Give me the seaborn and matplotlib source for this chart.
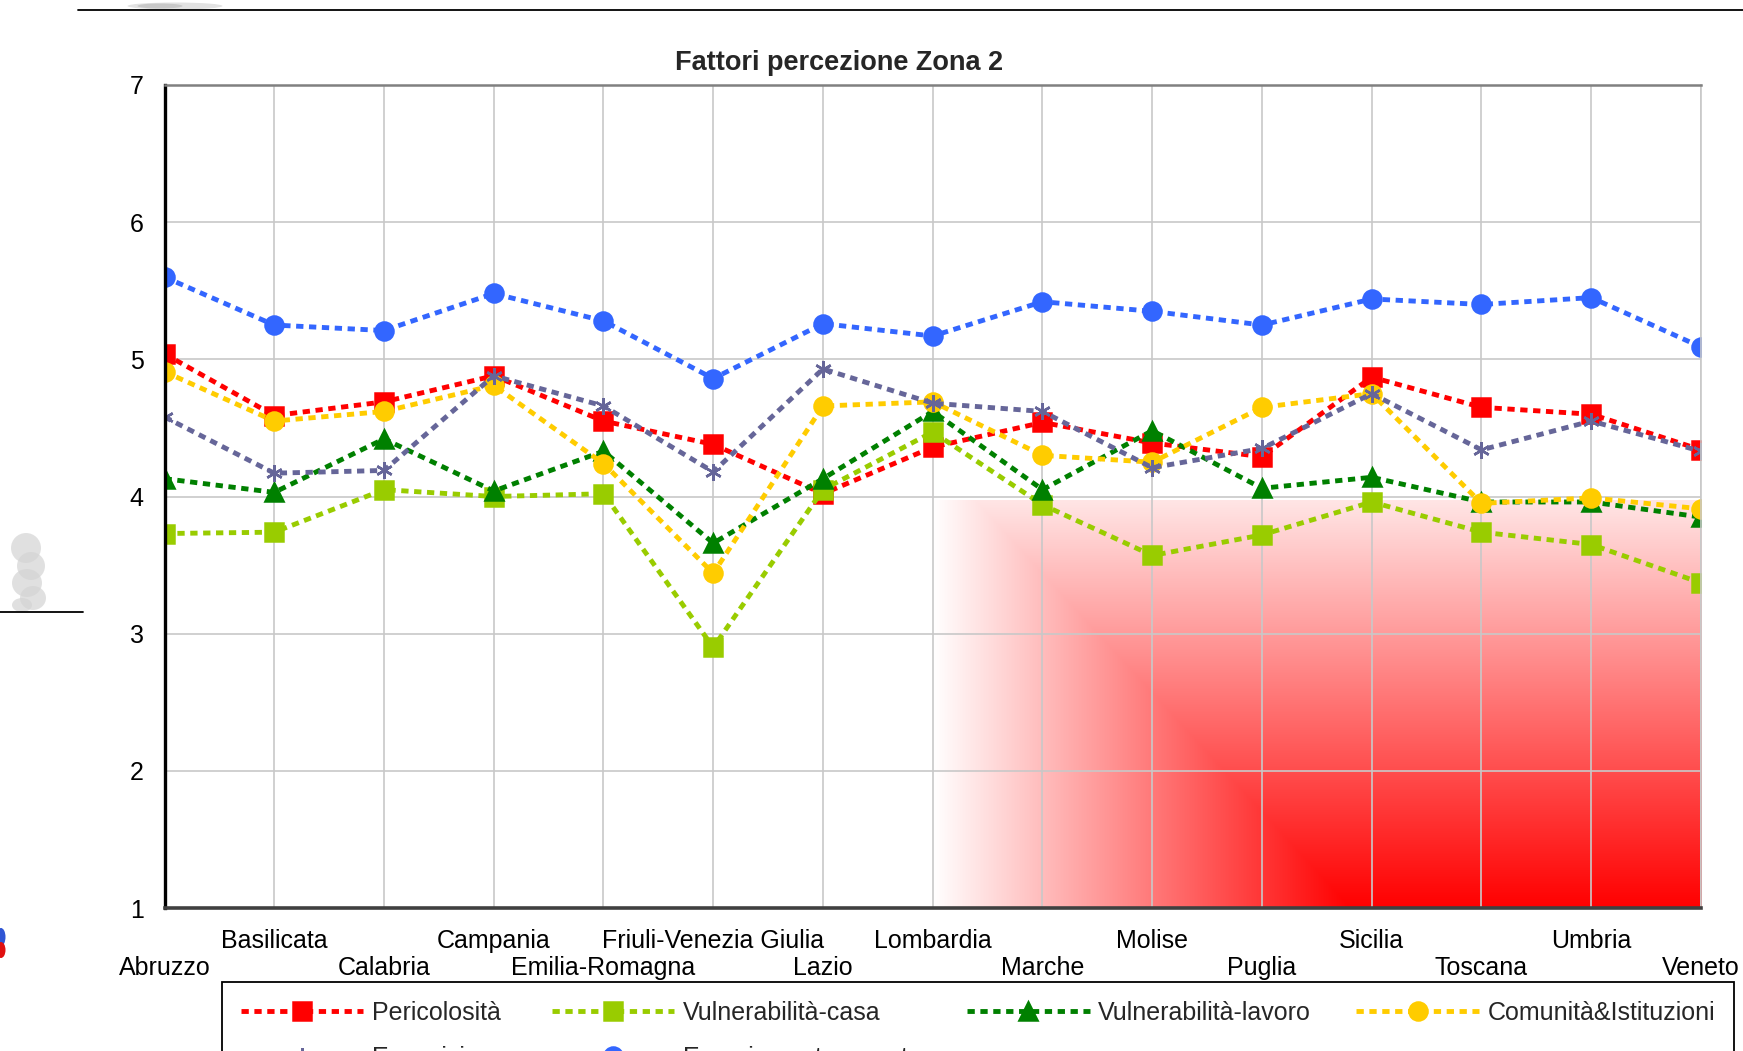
import numpy as np
import pandas as pd
import matplotlib
matplotlib.use("Agg")
import matplotlib.pyplot as plt
import matplotlib.transforms as mtransforms
import seaborn as sns
from matplotlib.lines import Line2D
from matplotlib.patches import Ellipse

# --- data -------------------------------------------------------------------
regioni = ["Abruzzo", "Basilicata", "Calabria", "Campania", "Emilia-Romagna",
           "Friuli-Venezia Giulia", "Lazio", "Lombardia", "Marche", "Molise",
           "Puglia", "Sicilia", "Toscana", "Umbria", "Veneto"]

pericolosita = [5.04, 4.59, 4.69, 4.88, 4.55, 4.38, 4.02, 4.36, 4.54, 4.39,
                4.29, 4.87, 4.65, 4.60, 4.34]
vulnerabilita_casa = [3.73, 3.74, 4.05, 4.00, 4.02, 2.90, 4.05, 4.47, 3.94, 3.57,
                      3.72, 3.96, 3.74, 3.65, 3.37]
vulnerabilita_lavoro = [4.13, 4.03, 4.42, 4.04, 4.33, 3.66, 4.13, 4.62, 4.05, 4.48,
                        4.06, 4.14, 3.96, 3.96, 3.85]
comunita_istituzioni = [4.91, 4.55, 4.62, 4.81, 4.24, 3.44, 4.66, 4.69, 4.30, 4.25,
                        4.65, 4.75, 3.95, 3.99, 3.91]
esposizione = [4.58, 4.17, 4.19, 4.88, 4.66, 4.18, 4.93, 4.68, 4.62, 4.21,
               4.35, 4.75, 4.34, 4.55, 4.33]
esperienza_terremoto = [5.60, 5.25, 5.21, 5.48, 5.28, 4.86, 5.26, 5.17, 5.42, 5.35,
                        5.25, 5.44, 5.40, 5.45, 5.09]

nomi_serie = ["Pericolosità", "Vulnerabilità-casa", "Vulnerabilità-lavoro",
              "Comunità&Istituzioni", "Esposizione", "Esperienza terremoto"]
valori_serie = [pericolosita, vulnerabilita_casa, vulnerabilita_lavoro,
                comunita_istituzioni, esposizione, esperienza_terremoto]

titolo = "Fattori percezione Zona 2"
y_ticks = [1, 2, 3, 4, 5, 6, 7]

# long-form table for seaborn
pos = np.arange(len(regioni))
df = pd.concat([
    pd.DataFrame({"pos": pos, "regione": regioni, "valore": v, "serie": n})
    for n, v in zip(nomi_serie, valori_serie)
], ignore_index=True)

# --- styles -----------------------------------------------------------------
stili = {
    "Pericolosità":         dict(color="#ff0000", marker="s", ms=12.5),
    "Vulnerabilità-casa":   dict(color="#99cc00", marker="s", ms=12.5),
    "Vulnerabilità-lavoro": dict(color="#008000", marker="^", ms=13),
    "Comunità&Istituzioni": dict(color="#ffcc00", marker="o", ms=13),
    "Esposizione":          dict(color="#666699", marker=(6, 2, 0), ms=12),
    "Esperienza terremoto": dict(color="#3366ff", marker="o", ms=13),
}

sns.set_style("white")
plt.rcParams["font.family"] = ["Liberation Sans", "DejaVu Sans"]

W, H = 1743, 1051
fig = plt.figure(figsize=(W / 100, H / 100), dpi=100)
ax = fig.add_axes([164.5 / W, 1 - 908 / H, (1701 - 164.5) / W, (908 - 85) / H])

# red shaded panel in the lower right of the plot area
gx = np.linspace(7, 14, 500)
gy = np.linspace(1, 3.97, 400)
GX, GY = np.meshgrid(gx, gy)
fx = np.clip((GX - 7) / 3.8, 0, 1)
fy = 0.1 + 0.9 * (3.97 - GY) / 2.97
inten = np.minimum(fx, fy)
rgb = np.dstack([np.ones_like(inten), 1 - inten, 1 - inten])
ax.imshow(rgb, extent=[7, 14, 1, 3.97], origin="lower", aspect="auto",
          interpolation="bilinear", zorder=0)

# series
linee = {}
for nome in nomi_serie:
    st = stili[nome]
    sns.lineplot(data=df[df["serie"] == nome], x="pos", y="valore", ax=ax,
                 color=st["color"], marker=st["marker"], markersize=st["ms"],
                 markeredgecolor=st["color"], markerfacecolor=st["color"],
                 markeredgewidth=1.8, linewidth=3.5, sort=False, legend=False)
    ln = ax.lines[-1]
    ln.set_dashes((1.5, 1.15))
    ln.set_dash_capstyle("butt")
    linee[nome] = ln

# axes
ax.set_xlim(0, len(regioni) - 1)
ax.set_ylim(1, 7)
ax.set_yticks(y_ticks)
ax.set_xticks(pos)
ax.set_xticklabels(regioni)
ax.set_xlabel("")
ax.set_ylabel("")
ax.tick_params(axis="x", length=8, width=1.3, color="#404040", pad=7,
               labelsize=18, labelcolor="black")
ax.tick_params(axis="y", length=9, width=1.3, pad=6, labelsize=18,
               labelcolor="black")

# staggered category labels: every other one sits on a second, lower row
abbassa = mtransforms.ScaledTranslation(0, -0.275, fig.dpi_scale_trans)
for i, lab in enumerate(ax.get_xticklabels()):
    if i % 2 == 0:
        lab.set_transform(lab.get_transform() + abbassa)

ax.set_axisbelow(True)
ax.grid(True, color="#c8c8c8", linewidth=1.2)

ax.spines["left"].set_color("black")
ax.spines["left"].set_linewidth(2.4)
ax.spines["bottom"].set_color("#404040")
ax.spines["bottom"].set_linewidth(2.6)
ax.spines["top"].set_color("#808080")
ax.spines["top"].set_linewidth(1.8)
ax.spines["right"].set_color("#c8c8c8")
ax.spines["right"].set_linewidth(1.2)

fig.text(839 / W, 1 - 63 / H, titolo, ha="center", va="center",
         fontsize=19.5, fontweight="bold")

# legend (two rows, the second runs off the bottom edge)
ordine = ["Pericolosità", "Esposizione", "Vulnerabilità-casa",
          "Esperienza terremoto", "Vulnerabilità-lavoro", "Comunità&Istituzioni"]
leg = fig.legend([linee[n] for n in ordine], ordine, loc="upper left",
                 bbox_to_anchor=(222 / W, 1 - 982 / H - 0.1, 1512 / W, 0.1),
                 mode="expand", ncol=4, fontsize=18, handlelength=4.9,
                 handletextpad=0.35, borderpad=0.75, labelspacing=0.85,
                 frameon=True, fancybox=False, edgecolor="black", framealpha=1,
                 borderaxespad=0, numpoints=1)
leg.get_frame().set_linewidth(1.3)

# page rules and marks around the chart
def fpt(x, y):
    return x / W, 1 - y / H

fig.add_artist(Line2D([78 / W, 1.0], [1 - 10 / H] * 2, color="black",
                      linewidth=1.3, transform=fig.transFigure))
fig.add_artist(Line2D([0, 83 / W], [1 - 612 / H] * 2, color="black",
                      linewidth=1.3, transform=fig.transFigure))

def macchia(x, y, w, h, col, alpha=1.0):
    fig.add_artist(Ellipse(fpt(x, y), w / W, h / H, facecolor=col,
                           edgecolor="none", alpha=alpha,
                           transform=fig.transFigure))

macchia(175, 6, 95, 7, "#e2e2e2")
macchia(160, 6, 45, 5, "#c8c8c8")
for (x, y, w, h) in [(26, 548, 30, 30), (31, 566, 28, 28), (27, 583, 30, 28),
                     (33, 598, 26, 24), (22, 605, 20, 14)]:
    macchia(x, y, w, h, "#d4d4d4", 0.7)
macchia(1, 937, 9, 18, "#2f55d4")
macchia(1, 950, 9, 16, "#e01010")

fig.savefig("out.png", dpi=100)
